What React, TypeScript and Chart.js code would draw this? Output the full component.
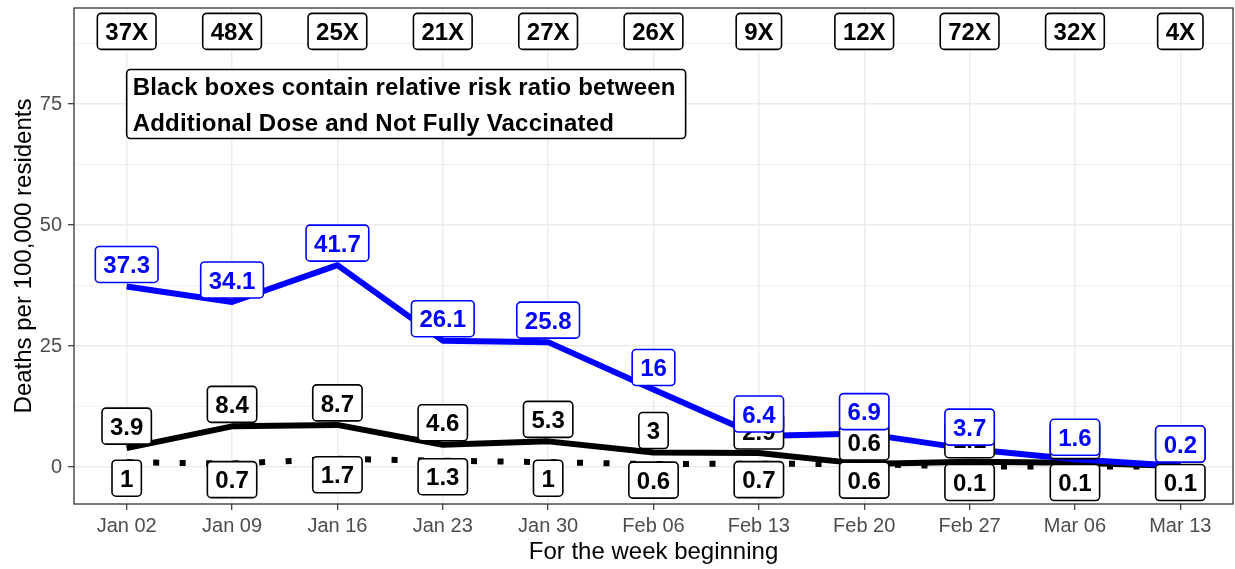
import React, { useEffect, useRef } from "react";
import { Chart, registerables } from "chart.js";

Chart.register(...registerables);

// ---------- data ----------
const weeks = ["Jan 02", "Jan 09", "Jan 16", "Jan 23", "Jan 30", "Feb 06", "Feb 13", "Feb 20", "Feb 27", "Mar 06", "Mar 13"];
const notFullyVaccinated = [37.3, 34.1, 41.7, 26.1, 25.8, 16, 6.4, 6.9, 3.7, 1.6, 0.2];
const fullyVaccinated = [3.9, 8.4, 8.7, 4.6, 5.3, 3, 2.9, 0.6, 1.1, 0.9, 0.2];
const additionalDose = [1, 0.7, 1.7, 1.3, 1, 0.6, 0.7, 0.6, 0.1, 0.1, 0.1];
const riskRatios = ["37X", "48X", "25X", "21X", "27X", "26X", "9X", "12X", "72X", "32X", "4X"];
const ratioRowValue = 90;
const noteLines = ["Black boxes contain relative risk ratio between", "Additional Dose and Not Fully Vaccinated"];
const noteAnchorIndex = 0;
const noteAnchorValue = 75;
const yMajorTicks = [0, 25, 50, 75];
const yMinorTicks = [12.5, 37.5, 62.5, 87.5];
const yMin = -7.64;
const yMax = 94.83;
const xTitle = "For the week beginning";
const yTitle = "Deaths per 100,000 residents";

// ---------- styles ----------
const FONT = '"Liberation Sans", Arial, Helvetica, sans-serif';
const BLUE = "#0000ff";

function drawBox(ctx: CanvasRenderingContext2D, text: string, cx: number, cy: number, color: string) {
  ctx.save();
  ctx.font = `bold 24px ${FONT}`;
  const tw = ctx.measureText(text).width;
  const w = tw + 16;
  const h = 36;
  ctx.beginPath();
  (ctx as any).roundRect(cx - w / 2, cy - h / 2, w, h, 4);
  ctx.fillStyle = "#ffffff";
  ctx.fill();
  ctx.lineWidth = 1.6;
  ctx.strokeStyle = color;
  ctx.stroke();
  ctx.fillStyle = color;
  ctx.textAlign = "center";
  ctx.textBaseline = "alphabetic";
  ctx.fillText(text, cx, cy + 8.6);
  ctx.restore();
}

const fmt = (v: number) => String(v);

const labelPlugin = {
  id: "boxLabels",
  afterDatasetsDraw(chart: any) {
    const ctx: CanvasRenderingContext2D = chart.ctx;
    const xs = chart.scales.x;
    const ys = chart.scales.y;

    // risk ratio row
    riskRatios.forEach((t, i) => drawBox(ctx, t, xs.getPixelForValue(i), ys.getPixelForValue(ratioRowValue), "#000000"));

    // note box
    ctx.save();
    ctx.font = `bold 24px ${FONT}`;
    (ctx as any).letterSpacing = "0.2px";
    const widths = noteLines.map((l) => ctx.measureText(l).width);
    const bw = Math.max(...widths) + 16;
    const bh = 69;
    const bx = xs.getPixelForValue(noteAnchorIndex);
    const by = ys.getPixelForValue(noteAnchorValue) - bh / 2;
    ctx.beginPath();
    (ctx as any).roundRect(bx, by, bw, bh, 4);
    ctx.fillStyle = "#ffffff";
    ctx.fill();
    ctx.lineWidth = 1.6;
    ctx.strokeStyle = "#000000";
    ctx.stroke();
    ctx.fillStyle = "#000000";
    ctx.textAlign = "left";
    ctx.textBaseline = "alphabetic";
    ctx.fillText(noteLines[0], bx + 6, by + 26);
    ctx.fillText(noteLines[1], bx + 6, by + 62);
    ctx.restore();

    additionalDose.forEach((v, i) => drawBox(ctx, fmt(v), xs.getPixelForValue(i), ys.getPixelForValue(v) + 16, "#000000"));
    fullyVaccinated.forEach((v, i) => drawBox(ctx, fmt(v), xs.getPixelForValue(i), ys.getPixelForValue(v) - 22, "#000000"));
    notFullyVaccinated.forEach((v, i) => drawBox(ctx, fmt(v), xs.getPixelForValue(i), ys.getPixelForValue(v) - 22, BLUE));
  },
  afterDraw(chart: any) {
    const ctx: CanvasRenderingContext2D = chart.ctx;
    const ca = chart.chartArea;
    ctx.save();
    ctx.strokeStyle = "#333333";
    ctx.lineWidth = 1.3;
    ctx.strokeRect(ca.left, ca.top, ca.right - ca.left, ca.bottom - ca.top);

    ctx.fillStyle = "#000000";
    ctx.font = `24px ${FONT}`;
    ctx.textAlign = "center";
    ctx.textBaseline = "alphabetic";
    ctx.fillText(xTitle, (ca.left + ca.right) / 2, 559);

    ctx.translate(31, (ca.top + ca.bottom) / 2);
    ctx.rotate(-Math.PI / 2);
    ctx.fillText(yTitle, 0, 0);
    ctx.restore();
  },
};

const isMajor = (v: number) => yMajorTicks.includes(v);

export default function App() {
  const ref = useRef<HTMLCanvasElement | null>(null);

  useEffect(() => {
    if (!ref.current) return;
    const chart = new Chart(ref.current, {
      type: "line",
      data: {
        labels: weeks,
        datasets: [
          {
            label: "Not Fully Vaccinated",
            data: notFullyVaccinated,
            borderColor: BLUE,
            backgroundColor: BLUE,
            borderWidth: 6,
            pointRadius: 0,
            borderCapStyle: "butt",
            borderJoinStyle: "round",
            tension: 0,
            order: 0,
          },
          {
            label: "Fully Vaccinated",
            data: fullyVaccinated,
            borderColor: "#000000",
            backgroundColor: "#000000",
            borderWidth: 6,
            pointRadius: 0,
            borderCapStyle: "butt",
            borderJoinStyle: "round",
            tension: 0,
            order: 1,
          },
          {
            label: "Additional Dose",
            data: additionalDose,
            borderColor: "#000000",
            backgroundColor: "#000000",
            borderWidth: 6,
            borderDash: [6, 20.5],
            pointRadius: 0,
            borderCapStyle: "butt",
            borderJoinStyle: "round",
            tension: 0,
            order: 2,
          },
        ],
      },
      options: {
        responsive: false,
        animation: false,
        layout: { padding: { left: 0, right: 2, top: 8, bottom: 0 } },
        plugins: {
          legend: { display: false },
          tooltip: { enabled: false },
        },
        scales: {
          x: {
            type: "category",
            offset: true,
            grid: {
              color: "#ebebeb",
              lineWidth: 1.4,
              tickColor: "#333333",
              tickLength: 6,
              tickWidth: 1.2,
              drawTicks: true,
            },
            border: { display: false },
            ticks: {
              color: "#4d4d4d",
              font: { family: FONT, size: 20 },
              padding: 4,
              autoSkip: false,
              maxRotation: 0,
            },
            afterFit: (s: any) => {
              s.height = 65;
              s.paddingLeft = 0;
              s.paddingRight = 0;
            },
          },
          y: {
            type: "linear",
            min: yMin,
            max: yMax,
            bounds: "data",
            afterBuildTicks: (s: any) => {
              s.ticks = [...yMajorTicks, ...yMinorTicks].sort((a, b) => a - b).map((v) => ({ value: v }));
            },
            grid: {
              color: "#ebebeb",
              lineWidth: (c: any) => (c.tick && isMajor(c.tick.value) ? 1.4 : 0.7),
              tickColor: (c: any) => (c.tick && isMajor(c.tick.value) ? "#333333" : "rgba(0,0,0,0)"),
              tickWidth: 1.2,
              tickLength: 6,
              drawTicks: true,
            },
            border: { display: false },
            ticks: {
              color: "#4d4d4d",
              font: { family: FONT, size: 20 },
              padding: 6,
              callback: (v: any) => (isMajor(Number(v)) ? String(v) : ""),
            },
            afterFit: (s: any) => {
              s.width = 74;
              s.paddingTop = 0;
              s.paddingBottom = 0;
            },
          },
        },
      },
      plugins: [labelPlugin],
    } as any);
    return () => chart.destroy();
  }, []);

  return (
    <div style={{ position: "absolute", left: 0, top: 0, width: 1235, height: 569, background: "#ffffff" }}>
      <canvas ref={ref} width={1235} height={569} style={{ width: 1235, height: 569, display: "block" }} />
    </div>
  );
}
